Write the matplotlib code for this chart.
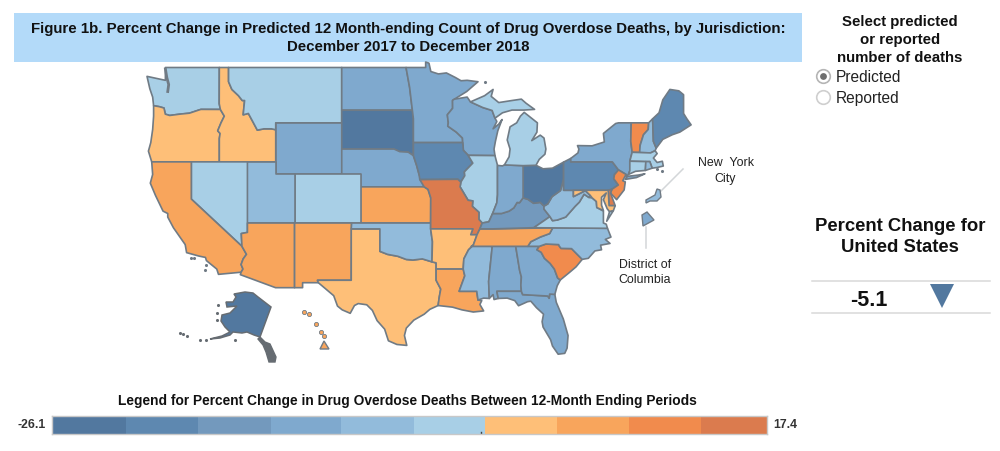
import numpy as np
import matplotlib
matplotlib.use("Agg")
import matplotlib.pyplot as plt
from matplotlib.colors import BoundaryNorm, ListedColormap
from matplotlib.patches import Polygon, Circle, Rectangle

plt.rcParams['font.family'] = ['Liberation Sans', 'DejaVu Sans']

TITLE = ("Figure 1b. Percent Change in Predicted 12 Month-ending Count of Drug Overdose Deaths, by Jurisdiction:\n"
         "December 2017 to December 2018")
LEGEND_TITLE = "Legend for Percent Change in Drug Overdose Deaths Between 12-Month Ending Periods"
US_CHANGE = -5.1
LEGEND_MIN = -26.1
LEGEND_MAX = 17.4
LEGEND_BREAKS = [-21.6, -17.2, -12.8, -8.5, -4.1, 0.24, 4.6, 9.0, 13.4]
BIN_COLORS = ["#52789F", "#5E88B0", "#7399BD", "#7FA9CE", "#92BBDB",
              "#A8CFE6", "#FEBF78", "#F8A55C", "#F18B4D", "#DB7B4E"]

# estimated from the colour bin of each jurisdiction
CHANGE = {"WA": -2, "OR": 2, "CA": 6, "NV": -2, "ID": 2, "MT": -2, "WY": -11, "UT": -6, "AZ": 6,
          "CO": -2, "NM": 6, "ND": -11, "SD": -24, "NE": -11, "KS": 6, "OK": -6, "TX": 2, "MN": -11,
          "IA": -20, "MO": 15, "AR": 2, "LA": 6, "WI": -11, "IL": -2, "MI": -2, "IN": -11, "OH": -24,
          "KY": -15, "TN": 6, "MS": -6, "AL": -11, "GA": -11, "FL": -11, "SC": 11, "NC": -6, "VA": -2,
          "WV": -6, "PA": -20, "NY": -11, "VT": 11, "NH": -6, "ME": -20, "MA": -2, "CT": -2, "RI": -6,
          "NJ": 11, "DE": 15, "MD": 2, "DC": -11, "NYC": -6, "AK": -22, "HI": 6}

# outlines in lon, lat
OUTLINES = {
 "WA": [(-124.7,48.38),(-123.1,48.15),(-122.75,48.1),(-122.75,49),(-117.03,49),(-117.04,46.42),(-116.92,45.995),(-118.98,46),(-119.3,45.93),(-120.2,45.72),(-121.2,45.65),(-122.3,45.55),(-122.76,45.65),(-122.9,46.1),(-123.4,46.2),(-124,46.27),(-124.1,46.9),(-124.4,47.5)],
 "OR": [(-124,46.27),(-123.4,46.2),(-122.9,46.1),(-122.76,45.65),(-122.3,45.55),(-121.2,45.65),(-120.2,45.72),(-119.3,45.93),(-118.98,46),(-116.92,45.995),(-116.5,45.5),(-116.85,45),(-117.2,44.4),(-116.95,44.2),(-117.03,43.8),(-117.03,42),(-124.2,42),(-124.55,42.84),(-124.3,43.5),(-124.1,44.5),(-124,45.5)],
 "ID": [(-117.03,49),(-116.05,49),(-116.05,48),(-115.7,47.45),(-115,47),(-114.6,46.65),(-114.35,46.65),(-114.5,45.6),(-113.95,45.7),(-113.45,45.05),(-113,44.45),(-112.3,44.55),(-111.5,44.55),(-111.05,44.48),(-111.05,42),(-117.03,42),(-117.03,43.8),(-116.95,44.2),(-117.2,44.4),(-116.85,45),(-116.5,45.5),(-116.92,45.995),(-117.04,46.42)],
 "MT": [(-116.05,49),(-104.05,49),(-104.05,45),(-111.05,45),(-111.05,44.48),(-111.5,44.55),(-112.3,44.55),(-113,44.45),(-113.45,45.05),(-113.95,45.7),(-114.5,45.6),(-114.35,46.65),(-114.6,46.65),(-115,47),(-115.7,47.45),(-116.05,48)],
 "WY": [(-111.05,45),(-104.05,45),(-104.05,41),(-111.05,41)],
 "ND": [(-104.05,49),(-97.23,49),(-96.85,47.6),(-96.56,45.94),(-104.05,45.94)],
 "SD": [(-104.05,45.94),(-96.56,45.94),(-96.45,45.3),(-96.45,43.5),(-96.45,42.49),(-97,42.76),(-97.9,42.8),(-98.5,43),(-104.05,43)],
 "NE": [(-104.05,43),(-98.5,43),(-97.9,42.8),(-97,42.76),(-96.45,42.49),(-96.1,41.7),(-95.85,41),(-95.31,40),(-102.05,40),(-102.05,41),(-104.05,41)],
 "KS": [(-102.05,40),(-95.31,40),(-94.9,39.8),(-94.61,39.1),(-94.62,37),(-102.05,37)],
 "CO": [(-109.05,41),(-102.05,41),(-102.05,37),(-109.05,37)],
 "UT": [(-114.05,42),(-111.05,42),(-111.05,41),(-109.05,41),(-109.05,37),(-114.05,37)],
 "NV": [(-120,42),(-114.05,42),(-114.05,36.2),(-114.7,36.1),(-114.63,35),(-120,39)],
 "CA": [(-124.2,42),(-120,42),(-120,39),(-114.63,35),(-114.15,34.3),(-114.5,33.9),(-114.72,33.4),(-114.52,33),(-114.72,32.72),(-117.12,32.53),(-117.3,33),(-118.4,33.75),(-118.5,34.03),(-119.2,34.15),(-120.5,34.45),(-120.65,35.15),(-121.9,36.6),(-122.5,37.5),(-122.5,37.8),(-123,38),(-123.8,39.3),(-124.35,40.3),(-124.1,41)],
 "AZ": [(-114.05,37),(-109.05,37),(-109.05,31.33),(-111.07,31.33),(-114.8,32.5),(-114.72,32.72),(-114.52,33),(-114.72,33.4),(-114.5,33.9),(-114.15,34.3),(-114.63,35),(-114.7,36.1),(-114.05,36.2)],
 "NM": [(-109.05,37),(-103,37),(-103.04,32),(-106.62,32),(-106.53,31.78),(-108.2,31.78),(-108.2,31.33),(-109.05,31.33)],
 "TX": [(-106.62,32),(-103.04,32),(-103.04,36.5),(-100,36.5),(-100,34.56),(-99.2,34.3),(-98.1,34.13),(-97.2,33.85),(-96.5,33.8),(-95.5,33.9),(-94.48,33.64),(-94.04,33.55),(-94.04,33),(-94.04,32),(-93.55,31.2),(-93.7,30.5),(-93.83,29.7),(-94.7,29.35),(-95.3,28.9),(-96.4,28.35),(-97.2,27.6),(-97.4,26.9),(-97.15,25.96),(-98.2,26.05),(-99.1,26.4),(-99.5,27.5),(-100.3,28.3),(-100.8,29.25),(-101.4,29.77),(-102.3,29.88),(-102.7,29.7),(-103.15,28.98),(-104,29.3),(-104.5,29.65),(-104.9,30.6),(-106,31.4),(-106.53,31.78)],
 "OK": [(-103,37),(-94.62,37),(-94.62,36.5),(-94.43,35.4),(-94.48,33.64),(-95.5,33.9),(-96.5,33.8),(-97.2,33.85),(-98.1,34.13),(-99.2,34.3),(-100,34.56),(-100,36.5),(-103.04,36.5)],
 "MN": [(-97.23,49),(-95.15,49),(-95.15,49.38),(-94.8,49.3),(-94.6,48.72),(-93.8,48.55),(-92.95,48.62),(-92,48.3),(-91.4,48.07),(-90.75,48.1),(-89.6,48),(-90.8,47.3),(-92.1,46.75),(-92.3,46.66),(-92.29,46.08),(-92.85,45.6),(-92.75,45),(-92.8,44.75),(-91.9,44.3),(-91.25,43.85),(-91.22,43.5),(-96.45,43.5),(-96.45,45.3),(-96.56,45.94),(-96.85,47.6)],
 "WI": [(-92.1,46.75),(-90.75,46.9),(-90.4,46.55),(-89.1,46.14),(-88.1,45.92),(-87.8,45.35),(-87.6,45.1),(-88,44.55),(-87.4,44.9),(-87.05,45.25),(-87.5,44.4),(-87.75,43.6),(-87.9,43),(-87.8,42.49),(-90.64,42.51),(-91.15,42.9),(-91.22,43.5),(-91.25,43.85),(-91.9,44.3),(-92.8,44.75),(-92.75,45),(-92.85,45.6),(-92.29,46.08),(-92.3,46.66)],
 "IA": [(-96.45,43.5),(-91.22,43.5),(-91.15,42.9),(-90.64,42.51),(-90.15,41.9),(-91.05,41.2),(-91,40.9),(-91.42,40.38),(-91.73,40.61),(-95.77,40.585),(-95.85,41),(-96.1,41.7),(-96.45,42.49)],
 "IL": [(-90.64,42.51),(-87.8,42.49),(-87.53,41.72),(-87.53,39.35),(-87.6,38.7),(-87.95,38),(-88.05,37.8),(-88.45,37.1),(-89.15,37),(-89.5,37.3),(-89.5,37.9),(-90.2,38.4),(-90.15,38.85),(-90.65,38.9),(-91.5,40),(-91.42,40.38),(-91,40.9),(-91.05,41.2),(-90.15,41.9)],
 "MO": [(-95.77,40.585),(-91.73,40.61),(-91.42,40.38),(-91.5,40),(-90.65,38.9),(-90.15,38.85),(-90.2,38.4),(-89.5,37.9),(-89.5,37.3),(-89.15,37),(-89.4,36.5),(-89.7,36),(-90.37,36),(-90.15,36.5),(-94.62,36.5),(-94.62,37),(-94.61,39.1),(-94.9,39.8),(-95.31,40)],
 "AR": [(-94.62,36.5),(-90.15,36.5),(-90.37,36),(-89.7,36),(-90.1,35.1),(-90.6,34.7),(-91.1,33.9),(-91.17,33),(-94.04,33),(-94.04,33.55),(-94.48,33.64),(-94.43,35.4)],
 "LA": [(-94.04,33),(-91.17,33),(-91,32.4),(-91.6,31),(-89.73,31),(-89.6,30.2),(-89.2,30.15),(-89.4,29.8),(-89,29.2),(-90.1,29.1),(-91.3,29.3),(-92.3,29.55),(-93.83,29.7),(-93.7,30.5),(-93.55,31.2),(-94.04,32)],
 "MS": [(-90.3,35),(-88.2,35),(-88.1,34.9),(-88.47,31.9),(-88.4,30.35),(-89,30.38),(-89.6,30.2),(-89.73,31),(-91.6,31),(-91,32.4),(-91.17,33),(-91.1,33.9),(-90.6,34.7),(-90.1,35.1)],
 "AL": [(-88.2,35),(-85.6,35),(-85.18,32.87),(-85,32.3),(-85.05,31.55),(-85,31),(-87.6,31),(-87.45,30.35),(-87.9,30.25),(-88,30.7),(-88.4,30.35),(-88.47,31.9),(-88.1,34.9)],
 "FL": [(-87.6,31),(-85,31),(-84.86,30.7),(-82.2,30.57),(-82.05,30.37),(-82,30.75),(-81.45,30.72),(-81.3,30),(-80.55,28.45),(-80.05,26.9),(-80.15,25.7),(-80.4,25.2),(-81.1,25.12),(-81.7,25.9),(-81.9,26.5),(-82.7,27.7),(-82.8,28.2),(-82.65,28.9),(-83.4,29.5),(-84,30.1),(-84.35,30.05),(-85.3,29.68),(-85.7,30.15),(-86.5,30.38),(-87.45,30.35)],
 "GA": [(-85.6,35),(-83.1,35),(-83.35,34.7),(-82.9,34.48),(-82.55,33.95),(-81.95,33.5),(-81.5,33),(-81.15,32.2),(-80.87,32.03),(-81.2,31.5),(-81.45,30.72),(-82,30.75),(-82.05,30.37),(-82.2,30.57),(-84.86,30.7),(-85,31),(-85.05,31.55),(-85,32.3),(-85.18,32.87)],
 "SC": [(-83.1,35),(-82.4,35.2),(-81.05,35.15),(-81,35.05),(-80.8,34.82),(-79.68,34.8),(-78.55,33.86),(-79.2,33.2),(-79.9,32.7),(-80.87,32.03),(-81.15,32.2),(-81.5,33),(-81.95,33.5),(-82.55,33.95),(-82.9,34.48),(-83.35,34.7)],
 "NC": [(-84.32,35),(-83.1,35),(-82.4,35.2),(-81.05,35.15),(-81,35.05),(-80.8,34.82),(-79.68,34.8),(-78.55,33.86),(-77.9,33.95),(-77.2,34.6),(-76.5,34.7),(-76.6,35.1),(-75.6,35.25),(-76.1,35.6),(-75.5,35.8),(-75.87,36.55),(-81.68,36.59),(-82,36.1),(-83,35.8),(-84,35.4)],
 "TN": [(-90.3,35),(-90.1,35.1),(-89.7,36),(-89.4,36.5),(-88.05,36.5),(-81.68,36.59),(-82,36.1),(-83,35.8),(-84,35.4),(-84.32,35),(-85.6,35)],
 "KY": [(-89.4,36.5),(-88.05,36.5),(-83.68,36.6),(-81.97,37.54),(-82.6,38.17),(-82.6,38.42),(-83,38.73),(-83.7,38.65),(-84.3,38.98),(-84.82,39.1),(-85.2,38.7),(-85.45,38.72),(-85.8,38.27),(-86.3,38),(-87.1,37.8),(-88.05,37.8),(-88.45,37.1),(-89.15,37)],
 "VA": [(-83.68,36.6),(-75.87,36.55),(-76,36.9),(-76.3,37),(-76.3,37.6),(-76.3,38),(-77,38.3),(-77.05,38.8),(-77.5,39.1),(-77.83,39.13),(-78.35,39.4),(-78.85,38.75),(-79.3,38.4),(-80.3,37.5),(-81.2,37.25),(-81.7,37.2),(-81.97,37.54)],
 "WV": [(-81.97,37.54),(-81.7,37.2),(-81.2,37.25),(-80.3,37.5),(-79.3,38.4),(-78.85,38.75),(-78.35,39.4),(-77.83,39.13),(-77.72,39.32),(-78.2,39.68),(-78.4,39.62),(-79.48,39.2),(-79.48,39.72),(-80.52,39.72),(-80.52,40.64),(-80.85,39.7),(-81.75,39.2),(-82.2,38.6),(-82.6,38.42),(-82.6,38.17)],
 "OH": [(-84.82,41.7),(-83.45,41.73),(-82.7,41.45),(-81.7,41.5),(-80.52,41.98),(-80.52,40.64),(-80.85,39.7),(-81.75,39.2),(-82.2,38.6),(-82.6,38.42),(-83,38.73),(-83.7,38.65),(-84.3,38.98),(-84.82,39.1)],
 "IN": [(-87.53,41.72),(-87,41.68),(-86.8,41.76),(-84.82,41.7),(-84.82,39.1),(-85.2,38.7),(-85.45,38.72),(-85.8,38.27),(-86.3,38),(-87.1,37.8),(-88.05,37.8),(-87.95,38),(-87.6,38.7),(-87.53,39.35)],
 "MI": [(-86.8,41.76),(-84.82,41.7),(-83.45,41.73),(-83.1,42.2),(-82.5,42.6),(-82.4,43),(-82.6,43.85),(-83,44.07),(-83.9,43.65),(-83.35,44.3),(-83.3,45),(-84.7,45.78),(-85.1,45.5),(-85.5,45),(-86.2,44.7),(-86.5,43.7),(-86.2,43),(-86.3,42.4)],
 "MI_UP": [(-90.4,46.55),(-89.1,46.14),(-88.1,45.92),(-87.8,45.35),(-87,45.75),(-86,45.95),(-84.75,45.95),(-83.6,46),(-84.5,46.45),(-85,46.75),(-86,46.65),(-87.4,46.5),(-88.2,46.95),(-88,47.45),(-88.9,47)],
 "PA": [(-80.52,41.98),(-79.76,42.27),(-79.76,42),(-75.35,42),(-74.7,41.36),(-75.13,40.98),(-75.2,40.65),(-74.72,40.15),(-75.4,39.8),(-75.79,39.72),(-80.52,39.72)],
 "NY": [(-79.76,42.27),(-79,42.7),(-78.9,43),(-79.05,43.27),(-77.5,43.25),(-76.2,43.55),(-76.3,44.2),(-75,44.95),(-74.7,45),(-73.35,45),(-73.4,43.6),(-73.25,42.75),(-73.5,42.05),(-73.5,41.3),(-73.65,41),(-73.9,40.8),(-73.9,41),(-74.7,41.36),(-75.35,42),(-79.76,42)],
 "NY_LI": [(-74,40.6),(-72.8,40.75),(-71.9,41.05),(-72.6,40.95),(-73.75,40.85)],
 "NJ": [(-74.7,41.36),(-73.9,41),(-74.25,40.5),(-73.98,40.4),(-74.1,39.75),(-74.9,38.95),(-75.55,39.5),(-75.4,39.8),(-74.72,40.15),(-75.2,40.65),(-75.13,40.98)],
 "DE": [(-75.79,39.72),(-75.4,39.8),(-75.55,39.5),(-75.05,38.45),(-75.7,38.46)],
 "MD": [(-79.48,39.72),(-75.79,39.72),(-75.7,38.46),(-75.05,38.45),(-75.25,38.03),(-75.65,37.95),(-75.9,38.2),(-76.3,38.95),(-76,39.5),(-76.5,39.15),(-76.5,38.5),(-76.3,38.05),(-77,38.3),(-77.05,38.8),(-77.5,39.1),(-77.72,39.32),(-78.2,39.68),(-78.4,39.62),(-79.48,39.2)],
 "VA_ES": [(-75.95,37.15),(-75.25,38.03),(-75.65,37.95)],
 "VT": [(-73.35,45),(-71.5,45),(-71.55,44.5),(-72.05,44.1),(-72.4,43.3),(-72.46,42.73),(-73.25,42.75),(-73.4,43.6)],
 "NH": [(-71.5,45),(-71.08,45.3),(-71,43.6),(-70.7,43.07),(-70.82,42.87),(-71.3,42.7),(-72.46,42.73),(-72.4,43.3),(-72.05,44.1),(-71.55,44.5)],
 "ME": [(-71.08,45.3),(-70.4,45.75),(-70,46.7),(-69.25,47.45),(-68.3,47.35),(-67.8,47.07),(-67.8,45.7),(-67.45,45.3),(-67,44.85),(-68.2,44.3),(-69,44.1),(-70,43.75),(-70.7,43.07),(-71,43.6)],
 "MA": [(-73.5,42.05),(-73.25,42.75),(-72.46,42.73),(-71.3,42.7),(-70.82,42.87),(-70.6,42.65),(-71,42.3),(-70.6,41.95),(-70.05,42.05),(-69.95,41.67),(-70.65,41.55),(-71.13,41.5),(-71.38,42.02),(-71.8,42.02)],
 "CT": [(-73.5,42.05),(-71.8,42.02),(-71.85,41.32),(-72.9,41.25),(-73.65,41),(-73.5,41.3)],
 "RI": [(-71.8,42.02),(-71.38,42.02),(-71.13,41.5),(-71.85,41.32)],
}
ISLANDS_LON = [-120.0, -119.7, -118.4, -118.5, -70.05, -70.6, -88.9]
ISLANDS_LAT = [33.98, 34.0, 33.4, 32.9, 41.27, 41.4, 48.0]
PUGET_LON = [-122.75, -122.6, -122.4, -122.5]
PUGET_LAT = [48.9, 48.3, 47.8, 47.3]

# insets are not to scale, so these are picture positions
AK_BODY = [(234,294),(245,292),(253,293),(258,297),(271,307),(260,337),(254,335),(247,332),(242,333),(233,332),(230,335),(220,338),(210,339),(222,336),(230,332),(225,327),(221,321),(222,315),(230,313),(237,306),(227,307),(226,302),(233,302),(236,297)]
AK_PANHANDLE = [(260,337),(265,342),(270,344),(276,357),(275,362),(269,362),(266,352),(263,345),(258,339)]
AK_ISLES_X = [180, 183, 187, 200, 206, 218, 217, 235, 217]
AK_ISLES_Y = [333, 334, 336, 340, 340, 305, 313, 340, 320]
HI_BIG = [(320,349),(324,341),(329,349)]
HI_ISLES_X = [309, 316, 324, 321, 304]
HI_ISLES_Y = [314, 324, 336, 332, 312]
NYC_BLOB = [(646,200),(655,195),(657,189),(660,190),(661,197),(657,201),(650,201),(646,203)]
DC_BLOB = [(647,212),(654,220),(643,226),(642,215)]

EDGE = "#707B85"
cmap = ListedColormap(BIN_COLORS)
bins = np.array([LEGEND_MIN] + LEGEND_BREAKS + [LEGEND_MAX])
norm = BoundaryNorm(bins, cmap.N)


def merc(lat):
    return np.degrees(np.log(np.tan(np.radians(45 + np.asarray(lat, dtype=float) / 2))))


fig = plt.figure(figsize=(10, 4.51), dpi=100, facecolor="white")

# pixel axes for text and insets
ax = fig.add_axes([0, 0, 1, 1])
ax.set_xlim(0, 1000)
ax.set_ylim(451, 0)
ax.axis("off")

# map axes, mercator degrees
PX_PER_DEG = 9.43
mp = fig.add_axes([0, 0, 1, 1])
mp.set_xlim(-124.7 - 147 / PX_PER_DEG, -124.7 + (1000 - 147) / PX_PER_DEG)
y_top = merc(49) + 67.5 / PX_PER_DEG
mp.set_ylim(y_top - 451 / PX_PER_DEG, y_top)
mp.axis("off")
mp.patch.set_alpha(0)

ax.add_patch(Rectangle((14, 13), 788, 49, fc="#B3DAF9", ec="none"))
ax.text(408, 38, TITLE, ha="center", va="center", fontsize=10.8, fontweight="bold", linespacing=1.3, color="#111111")

for name, pts in OUTLINES.items():
    arr = np.array(pts)
    key = name.split("_")[0]
    color = cmap(norm(CHANGE[key]))
    mp.add_patch(Polygon(np.c_[arr[:, 0], merc(arr[:, 1])], closed=True, fc=color, ec=EDGE, lw=1.2, joinstyle="round"))
mp.plot(PUGET_LON, merc(PUGET_LAT), color=EDGE, lw=2)
mp.scatter(ISLANDS_LON, merc(ISLANDS_LAT), s=5, color=EDGE, lw=0)

ax.add_patch(Polygon(AK_PANHANDLE, closed=True, fc="#666C72", ec="#666C72", lw=1, zorder=3))
ax.add_patch(Polygon(AK_BODY, closed=True, fc=cmap(norm(CHANGE["AK"])), ec="#666C72", lw=1.1, zorder=3))
ax.scatter(AK_ISLES_X, AK_ISLES_Y, s=5, color="#666C72", lw=0, zorder=3)
ax.add_patch(Polygon(HI_BIG, closed=True, fc=cmap(norm(CHANGE["HI"])), ec=EDGE, lw=1, zorder=3))
ax.scatter(HI_ISLES_X, HI_ISLES_Y, s=9, color=cmap(norm(CHANGE["HI"])), edgecolor=EDGE, lw=0.6, zorder=3)

# leader lines and inset jurisdictions
ax.plot([683, 660], [169, 192], color="#D3D6D9", lw=1.1, zorder=3)
ax.plot([646, 646], [227, 248], color="#D3D6D9", lw=1.1, zorder=3)
ax.add_patch(Polygon(NYC_BLOB, closed=True, fc=cmap(norm(CHANGE["NYC"])), ec=EDGE, lw=1, zorder=4))
ax.add_patch(Polygon(DC_BLOB, closed=True, fc=cmap(norm(CHANGE["DC"])), ec=EDGE, lw=1, zorder=4))
ax.text(725.5, 171, "New  York\nCity", ha="center", va="center", fontsize=8.9, linespacing=1.35, color="#222222")
ax.text(645, 272.5, "District of\nColumbia", ha="center", va="center", fontsize=8.9, linespacing=1.4, color="#222222")

# selector
ax.text(900, 40, "Select predicted\nor reported\nnumber of deaths", ha="center", va="center", fontsize=10.8, fontweight="bold", linespacing=1.33, color="#111111")
ax.add_patch(Circle((823.5, 76.5), 6.8, fc="white", ec="#B5B5B5", lw=1.2))
ax.add_patch(Circle((823.5, 76.5), 3.4, fc="#6E6E6E", ec="none"))
ax.add_patch(Circle((823.5, 97.5), 6.8, fc="white", ec="#CFCFCF", lw=1.2))
ax.text(836, 77.5, "Predicted", ha="left", va="center", fontsize=11.2, color="#222222")
ax.text(836, 98.5, "Reported", ha="left", va="center", fontsize=11.2, color="#222222")

# US panel
ax.text(900, 237, "Percent Change for\nUnited States", ha="center", va="center", fontsize=13.3, fontweight="bold", linespacing=1.35, color="#111111")
ax.plot([812, 990], [281, 281], color="#D9D9D9", lw=1.1)
ax.plot([812, 990], [313, 313], color="#D9D9D9", lw=1.1)
ax.text(869, 301, f"{US_CHANGE}", ha="center", va="center", fontsize=15.5, fontweight="bold", color="#111111")
ax.add_patch(Polygon([(930, 284), (954, 284), (942, 308)], closed=True, fc=BIN_COLORS[0], ec="none"))

# legend
ax.text(407, 401, LEGEND_TITLE, ha="center", va="center", fontsize=9.9, fontweight="bold", color="#111111")
lg = fig.add_axes([52 / 1000, 1 - 434 / 451, 715 / 1000, 18 / 451])
lg.pcolormesh(bins, [0, 1], ((bins[:-1] + bins[1:]) / 2).reshape(1, -1), cmap=cmap, norm=norm)
lg.set_xlim(LEGEND_MIN, LEGEND_MAX)
lg.set_xticks([])
lg.set_yticks([])
for s in lg.spines.values():
    s.set_color("#C8C8C8")
    s.set_linewidth(1)
lg.plot([0, 0], [0, 0.12], color="#444444", lw=1)
lg.set_ylim(0, 1)
ax.text(46, 424.5, f"{LEGEND_MIN}", ha="right", va="center", fontsize=8.8, fontweight="bold", color="#333333")
ax.text(773, 424.5, f"{LEGEND_MAX}", ha="left", va="center", fontsize=8.8, fontweight="bold", color="#333333")

fig.savefig("out.png", dpi=100)
